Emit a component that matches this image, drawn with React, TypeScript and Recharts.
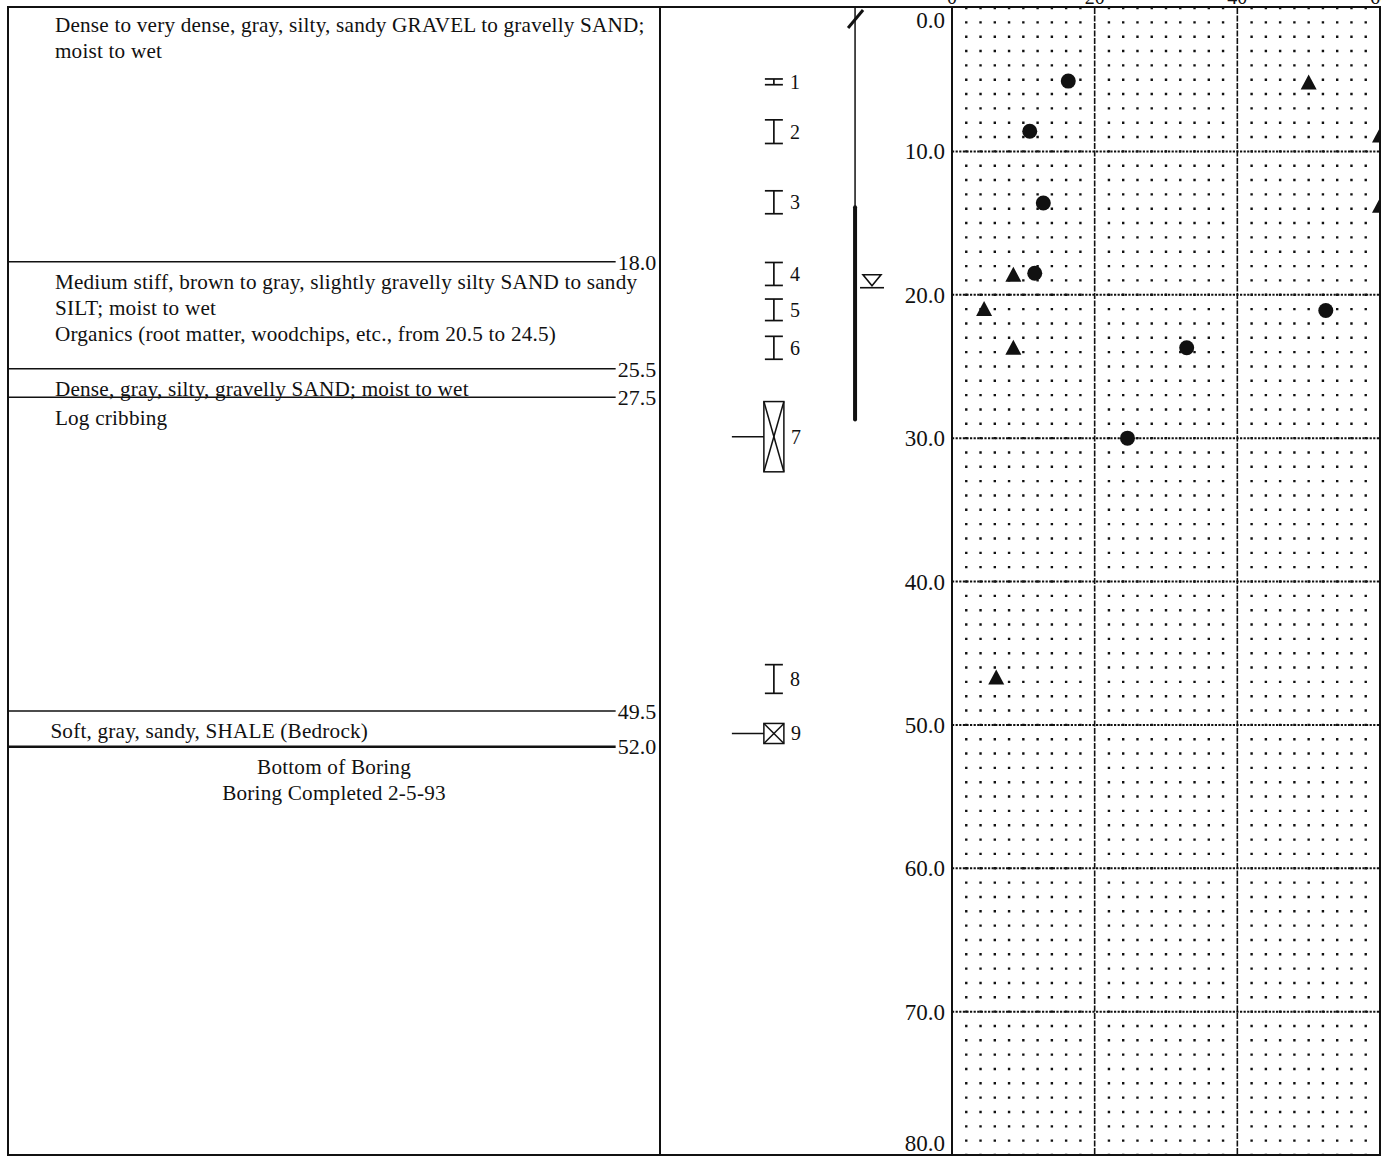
import React from 'react'
import {
  ScatterChart, Scatter, XAxis, YAxis, CartesianGrid, ReferenceLine,
  ReferenceArea, ReferenceDot, Label,
} from 'recharts'

const FONT = '"Liberation Serif", "DejaVu Serif", "Times New Roman", serif'
const INK = '#111'

const layerDepths = [18.0, 25.5, 27.5, 49.5, 52.0]

const descTops = [0, 18.0, 25.5, 27.5, 49.5, 52.0]
const descLines = [
  ['Dense to very dense, gray, silty, sandy GRAVEL to gravelly SAND;', 'moist to wet'],
  ['Medium stiff, brown to gray, slightly gravelly silty SAND to sandy', 'SILT; moist to wet',
    'Organics (root matter, woodchips, etc., from 20.5 to 24.5)'],
  ['Dense, gray, silty, gravelly SAND; moist to wet'],
  ['Log cribbing'],
  ['Soft, gray, sandy, SHALE (Bedrock)'],
  ['Bottom of Boring', 'Boring Completed 2-5-93'],
]

const sampleNumbers = [1, 2, 3, 4, 5, 6, 7, 8, 9]
const sampleTops = [4.95, 7.8, 12.75, 17.75, 20.3, 22.9, 27.45, 45.8, 49.9]
const sampleBottoms = [5.35, 9.45, 14.35, 19.35, 21.8, 24.5, 32.35, 47.8, 51.3]
const sampleKinds = ['spoon', 'spoon', 'spoon', 'spoon', 'spoon', 'spoon', 'bulk', 'spoon', 'bulk']

const wellRiser = [0, 13.9]
const wellScreen = [13.9, 28.7]
const waterDepth = 19.3

const circleDepths = [5.1, 8.6, 13.6, 18.5, 21.1, 23.7, 30.0]
const circleValues = [16.3, 10.9, 12.8, 11.6, 52.4, 32.9, 24.6]
const triangleDepths = [5.2, 8.9, 13.8, 18.6, 21.0, 23.7, 46.7]
const triangleValues = [50.0, 60, 60, 8.6, 4.5, 8.6, 6.2]

const xTicks = [0, 20, 40, 60]
const yTicks = [0, 10, 20, 30, 40, 50, 60, 70, 80]
const majorDepths = [10, 20, 30, 40, 50, 60, 70]
const majorValues = [20, 40]
const dotColumns = [2, 4, 6, 8, 10, 12, 14, 16, 18, 22, 24, 26, 28, 30, 32, 34, 36, 38,
  42, 44, 46, 48, 50, 52, 54, 56, 58]

// ---- layout ----
const H = 1159
const PLOT_TOP = 8
const PLOT_BOTTOM = 4
const DOT_PERIOD = (H - PLOT_TOP - PLOT_BOTTOM) / 80
const SAMPLE_LANE = 39
const WELL_LANE = 66.8
const WATER_LANE = 72.6

const descData = descTops.map((t, i) => ({
  x: i === descTops.length - 1 ? 50 : i === 4 ? 6.5 : 7.2,
  y: t, lines: descLines[i], center: i === descTops.length - 1,
}))
const sampleData = sampleNumbers.map((n, i) => ({
  x: SAMPLE_LANE, y: (sampleTops[i] + sampleBottoms[i]) / 2, n, kind: sampleKinds[i],
}))
const circleData = circleValues.map((v, i) => ({ x: v, y: circleDepths[i] }))
const triangleData = triangleValues.map((v, i) => ({ x: v, y: triangleDepths[i] }))

function DescText(props: any) {
  const { cx, cy, payload } = props
  return (
    <g>
      {payload.lines.map((l: string, i: number) => (
        <text key={i} x={cx} y={cy + 20 + i * 26} dy="0.35em" fontFamily={FONT} fontSize={21.2}
          letterSpacing={0.2} fill={INK} textAnchor={payload.center ? 'middle' : 'start'}>{l}</text>
      ))}
    </g>
  )
}

function DescriptionColumn() {
  return (
    <ScatterChart width={660} height={H} margin={{ top: 5, right: 0, bottom: 13, left: 8 }}>
      <XAxis type="number" dataKey="x" domain={[0, 100]} hide />
      <YAxis type="number" dataKey="y" domain={[0, 80]} reversed hide />
      {layerDepths.map((d, i) => (
        <ReferenceLine key={d} segment={[{ x: 0, y: d }, { x: 93.2, y: d }]} ifOverflow="visible"
          stroke={INK} strokeWidth={i === layerDepths.length - 1 ? 2.5 : 1.5}>
          <Label value={d.toFixed(1)} position="right" offset={2} fill={INK} fontSize={22} fontFamily={FONT} />
        </ReferenceLine>
      ))}
      <Scatter data={descData} shape={DescText} isAnimationActive={false} />
    </ScatterChart>
  )
}

function SampleGlyph(props: any) {
  const { x, y, width, height, kind } = props
  const cx = x + width / 2
  if (kind === 'bulk') {
    return (
      <g stroke={INK} strokeWidth={1.5} fill="none">
        <rect x={cx - 10} y={y} width={20} height={height} />
        <line x1={cx - 10} y1={y} x2={cx + 10} y2={y + height} />
        <line x1={cx + 10} y1={y} x2={cx - 10} y2={y + height} />
        <line x1={cx - 42} y1={y + height / 2} x2={cx - 10} y2={y + height / 2} />
      </g>
    )
  }
  return (
    <g stroke={INK} strokeWidth={1.7}>
      <line x1={cx - 9} y1={y} x2={cx + 9} y2={y} />
      <line x1={cx - 9} y1={y + height} x2={cx + 9} y2={y + height} />
      <line x1={cx} y1={y} x2={cx} y2={y + height} />
    </g>
  )
}

function SampleLabel(props: any) {
  const { cx, cy, payload } = props
  return (
    <text x={cx + (payload.kind === 'bulk' ? 17 : 16)} y={cy} dy="0.35em" fontFamily={FONT}
      fontSize={20} fill={INK}>{payload.n}</text>
  )
}

function Slash(props: any) {
  const { cx, cy } = props
  return <line x1={cx - 7} y1={cy + 20} x2={cx + 8} y2={cy + 2} stroke={INK} strokeWidth={3} />
}

function WaterMark(props: any) {
  const { cx, cy } = props
  return (
    <g stroke={INK} strokeWidth={1.6} fill="none">
      <polygon points={`${cx - 9},${cy - 10} ${cx + 9},${cy - 10} ${cx},${cy + 1}`} />
      <line x1={cx - 12} y1={cy + 3} x2={cx + 12} y2={cy + 3} />
    </g>
  )
}

function SampleColumn() {
  return (
    <ScatterChart width={292} height={H} margin={{ top: PLOT_TOP, right: 0, bottom: PLOT_BOTTOM, left: 0 }}>
      <XAxis type="number" dataKey="x" domain={[0, 100]} hide />
      <YAxis type="number" dataKey="y" domain={[0, 80]} reversed hide />
      <ReferenceLine segment={[{ x: WELL_LANE, y: wellRiser[0] }, { x: WELL_LANE, y: wellRiser[1] }]}
        ifOverflow="visible" stroke={INK} strokeWidth={1.5} />
      <ReferenceLine segment={[{ x: WELL_LANE, y: wellScreen[0] }, { x: WELL_LANE, y: wellScreen[1] }]}
        ifOverflow="visible" stroke={INK} strokeWidth={4} strokeLinecap="round" />
      <ReferenceDot x={WELL_LANE} y={0} ifOverflow="visible" shape={Slash} />
      <ReferenceDot x={WATER_LANE} y={waterDepth} ifOverflow="visible" shape={WaterMark} />
      {sampleNumbers.map((n, i) => (
        <ReferenceArea key={n} x1={SAMPLE_LANE - 1} x2={SAMPLE_LANE + 1} y1={sampleTops[i]} y2={sampleBottoms[i]}
          ifOverflow="visible" shape={(p: any) => <SampleGlyph {...p} kind={sampleKinds[i]} />} />
      ))}
      <Scatter data={sampleData} shape={SampleLabel} isAnimationActive={false} />
    </ScatterChart>
  )
}

function DepthTick(props: any) {
  const { x, y, payload } = props
  const v = payload.value
  const shift = v === 0 ? 12 : v === 80 ? -12 : 0
  return (
    <text x={x} y={y + shift} dy="0.35em" textAnchor="end" fontFamily={FONT} fontSize={23} fill={INK}>
      {Number(v).toFixed(1)}
    </text>
  )
}

function CircleMark(props: any) {
  return <circle cx={props.cx} cy={props.cy} r={7.5} fill={INK} />
}

function TriangleMark(props: any) {
  const { cx, cy } = props
  return <polygon points={`${cx},${cy - 8} ${cx - 8},${cy + 7} ${cx + 8},${cy + 7}`} fill={INK} />
}

function PlotColumn() {
  const dotGen = ({ xAxis, offset }: any) =>
    dotColumns.map(v => (xAxis && typeof xAxis.scale === 'function'
      ? xAxis.scale(v)
      : offset.left + (v / 60) * offset.width))
  return (
    <ScatterChart width={530} height={H} margin={{ top: 0, right: 2, bottom: PLOT_BOTTOM, left: 0 }}>
      <XAxis type="number" dataKey="x" orientation="top" domain={[0, 60]} ticks={xTicks} height={PLOT_TOP}
        axisLine={false} tickLine={false} tickSize={0} tickMargin={4} interval={0}
        tick={{ fontSize: 20, fontFamily: FONT, fill: INK }} />
      <YAxis type="number" dataKey="y" domain={[0, 80]} reversed ticks={yTicks} width={100} interval={0}
        axisLine={{ stroke: INK, strokeWidth: 2 }} tickLine={false} tickSize={0} tickMargin={7}
        tick={(p: any) => <DepthTick {...p} />} />
      <CartesianGrid horizontal={false} verticalCoordinatesGenerator={dotGen} stroke="#111" strokeWidth={2.4}
        strokeDasharray={`2.4 ${DOT_PERIOD - 2.4}`} strokeDashoffset={1.2} />
      {majorDepths.map(d => (
        <ReferenceLine key={`h${d}`} y={d} stroke={INK} strokeWidth={2} strokeDasharray="2.2 1.4" />
      ))}
      {majorValues.map(v => (
        <ReferenceLine key={`v${v}`} x={v} stroke={INK} strokeWidth={1.6} strokeDasharray="6 1.5" />
      ))}
      <Scatter data={circleData} shape={CircleMark} isAnimationActive={false} />
      <Scatter data={triangleData} shape={TriangleMark} isAnimationActive={false} />
    </ScatterChart>
  )
}

export default function App() {
  return (
    <div style={{ position: 'absolute', left: 0, top: 0, width: 1381, height: H, overflow: 'hidden', background: '#fff' }}>
      <div style={{ position: 'absolute', left: 7, top: 6, width: 1374, height: 1150, boxSizing: 'border-box', border: `2px solid ${INK}` }} />
      <div style={{ position: 'absolute', left: 659, top: 6, width: 2, height: 1150, background: INK }} />
      <div style={{ position: 'absolute', left: 0, top: 0 }}><DescriptionColumn /></div>
      <div style={{ position: 'absolute', left: 660, top: 0 }}><SampleColumn /></div>
      <div style={{ position: 'absolute', left: 852, top: 0 }}><PlotColumn /></div>
    </div>
  )
}
